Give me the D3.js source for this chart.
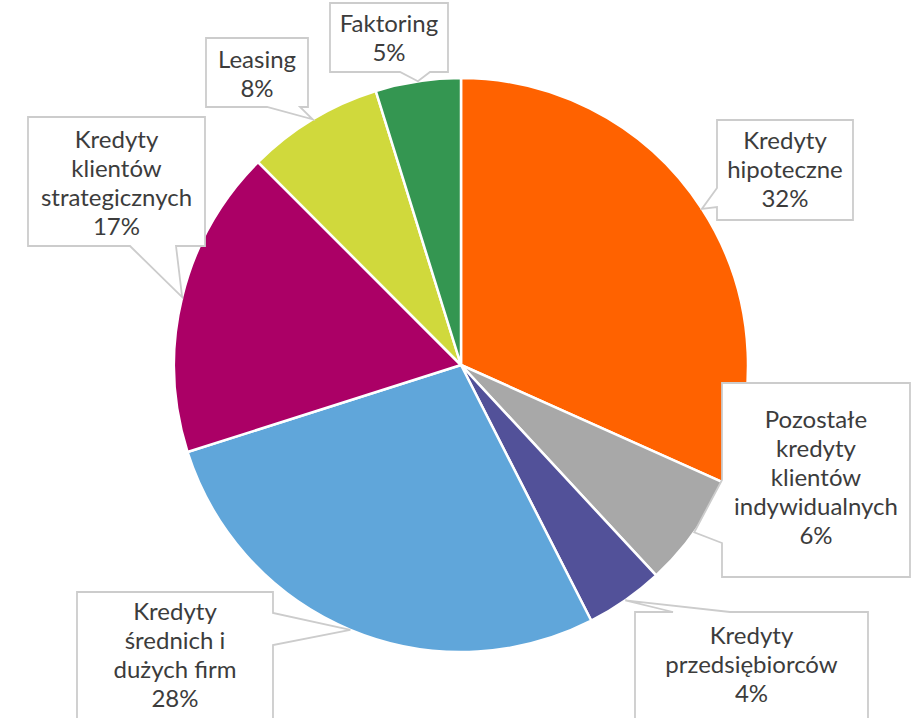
<!DOCTYPE html>
<html>
<head>
<meta charset="utf-8">
<script src="https://cdn.jsdelivr.net/npm/d3@7"></script>
<style>
  body { margin: 0; background: #fff; }
  text { font-family: Lato, "Noto Sans", sans-serif; fill: #3c3c3c; }
</style>
</head>
<body>
<script>
// data
const categories = [
  'Kredyty\nhipoteczne',
  'Pozostałe\nkredyty\nklientów\nindywidualnych',
  'Kredyty\nprzedsiębiorców',
  'Kredyty\nśrednich i\ndużych firm',
  'Kredyty\nklientów\nstrategicznych',
  'Leasing',
  'Faktoring'
]
const values = [31.7, 6.4, 4.4, 27.6, 17.4, 7.7, 4.8]
const colors = ['#ff6200', '#a8a8a8', '#525199', '#60a6da', '#ab0066', '#d0d93c', '#349651']

// callout layout: box [x0, y0, x1, y1], side the pointer leaves from, base span on that side, first baseline
const callouts = [
  {box: [717, 120, 853, 220], side: 'left',   base: [188, 207], ty: 149},
  {box: [722, 383, 910, 577], side: 'left',   base: [480, 543], ty: 428},
  {box: [635, 612, 868, 730], side: 'top',    base: [673, 730], ty: 644},
  {box: [77, 592, 273, 730],  side: 'right',  base: [613, 645], ty: 620},
  {box: [28, 117, 205, 246],  side: 'bottom', base: [130, 176], ty: 148},
  {box: [206, 38, 308, 107],  side: 'bottom', base: [267, 300], ty: 68},
  {box: [330, 3, 448, 72],    side: 'bottom', base: [400, 430], ty: 32}
]

let width = 917, height = 718
const cx = 461, cy = 365, radius = 287
const lineH = 29

let svg = d3.select('body').append('svg')
  .attr('width', width)
  .attr('height', height)

let pie = d3.pie().sort(null).value(d => d)
let arc = d3.arc().innerRadius(0).outerRadius(radius)
let arcs = pie(values)

let pieGroup = svg.append('g').attr('transform', `translate(${cx}, ${cy})`)
pieGroup.selectAll('path')
  .data(arcs)
  .enter().append('path')
  .attr('d', arc)
  .attr('fill', (d, i) => colors[i])
  .attr('stroke', '#fff')
  .attr('stroke-width', 2.5)
  .attr('stroke-linejoin', 'round')

function calloutPath(c, tip) {
  let [x0, y0, x1, y1] = c.box
  let [b0, b1] = c.base
  let [tx, ty] = tip
  let p = `M${x0},${y0}`
  if (c.side == 'top') p += `L${b0},${y0}L${tx},${ty}L${b1},${y0}`
  p += `L${x1},${y0}`
  if (c.side == 'right') p += `L${x1},${b0}L${tx},${ty}L${x1},${b1}`
  p += `L${x1},${y1}`
  if (c.side == 'bottom') p += `L${b1},${y1}L${tx},${ty}L${b0},${y1}`
  p += `L${x0},${y1}`
  if (c.side == 'left') p += `L${x0},${b1}L${tx},${ty}L${x0},${b0}`
  return p + 'Z'
}

let labelGroup = svg.append('g')
arcs.forEach((d, i) => {
  let c = callouts[i]
  let a = (d.startAngle + d.endAngle) / 2
  let tip = [cx + radius * Math.sin(a), cy - radius * Math.cos(a)]
  labelGroup.append('path')
    .attr('d', calloutPath(c, tip))
    .attr('fill', '#fff')
    .attr('stroke', '#cccccc')
    .attr('stroke-width', 1.8)
  let lines = categories[i].split('\n').concat([Math.round(values[i]) + '%'])
  let tx = (c.box[0] + c.box[2]) / 2
  let t = labelGroup.append('text')
    .attr('text-anchor', 'middle')
    .style('font-size', '24px')
  lines.forEach((l, j) => {
    t.append('tspan').attr('x', tx).attr('y', c.ty + j * lineH).text(l)
  })
})
</script>
</body>
</html>
